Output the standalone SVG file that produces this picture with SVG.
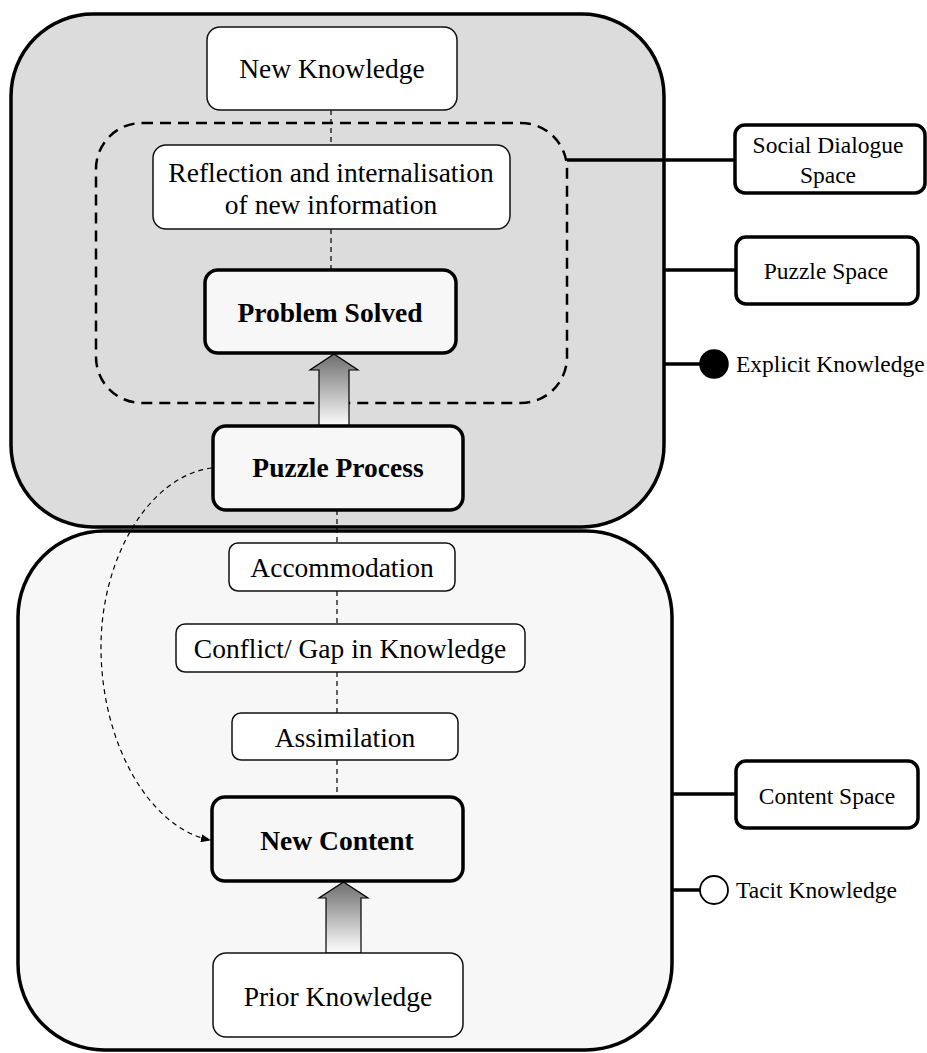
<svg xmlns="http://www.w3.org/2000/svg" width="927" height="1053" viewBox="0 0 927 1053">
<defs>
<linearGradient id="g" x1="0" y1="0" x2="0" y2="1">
<stop offset="0" stop-color="#6e6e6e"/>
<stop offset="1" stop-color="#ffffff"/>
</linearGradient>
<marker id="ah" markerWidth="10" markerHeight="8" refX="9" refY="4" orient="auto" markerUnits="userSpaceOnUse">
<path d="M0,0 L10,4 L0,8 z" fill="#000"/>
</marker>
<style>
text{font-family:"Liberation Serif","Times New Roman",serif;fill:#000;text-anchor:middle}
.t{font-size:27.5px}
.b{font-size:27.5px;font-weight:bold}
.s{font-size:23.5px}
.box{fill:#fff;stroke:#111;stroke-width:1.5}
.bold{fill:#f7f7f7;stroke:#000;stroke-width:3.5}
.side{fill:#fff;stroke:#000;stroke-width:3.5}
.dl{stroke:#000;stroke-width:1.2;stroke-dasharray:5,4;fill:none}
.ln{stroke:#000;stroke-width:3.5;fill:none}
</style>
</defs>
<g id="puzzle-space-container">
<rect x="11" y="14" width="653" height="513" rx="82" ry="82" fill="#dcdcdc" stroke="#000" stroke-width="3.5"/>
</g>
<g id="content-space-container">
<rect x="18" y="531" width="654" height="519" rx="86" ry="86" fill="#f7f7f7" stroke="#000" stroke-width="3.5"/>
</g>
<g id="social-dialogue-region">
<rect x="96" y="123" width="471" height="280" rx="46" ry="46" fill="none" stroke="#000" stroke-width="2.5" stroke-dasharray="11,7"/>
</g>
<g id="connectors">
<line class="dl" x1="331" y1="110" x2="331" y2="145"/>
<line class="dl" x1="331" y1="229" x2="331" y2="270"/>
<line class="dl" x1="337" y1="510" x2="337" y2="543"/>
<line class="dl" x1="337" y1="591" x2="337" y2="624"/>
<line class="dl" x1="337" y1="672" x2="337" y2="713"/>
<line class="dl" x1="337" y1="760" x2="337" y2="797"/>
<path class="dl" d="M212,468 C148,476 100,560 101,650 C102,745 150,828 210,840" stroke-dasharray="8,5" stroke-width="1.3" marker-end="url(#ah)"/>
<path d="M319,427 L319,370 L310,370 L334,354 L358,370 L349,370 L349,427 z" fill="url(#g)" stroke="#000" stroke-width="1.2"/>
<path d="M326,953 L326,898 L319,898 L343.5,882 L368,898 L361,898 L361,953 z" fill="url(#g)" stroke="#000" stroke-width="1.2"/>
<line class="ln" x1="567" y1="160" x2="735" y2="160"/>
<line class="ln" x1="664" y1="270" x2="736" y2="270"/>
<line class="ln" x1="664" y1="364" x2="702" y2="364"/>
<line class="ln" x1="672" y1="794" x2="736" y2="794"/>
<line class="ln" x1="672" y1="890" x2="700" y2="890"/>
</g>
<g id="new-knowledge">
<rect class="box" x="207" y="27" width="250" height="83" rx="13"/>
<text class="t" x="332" y="78">New Knowledge</text>
</g>
<g id="reflection">
<rect class="box" x="153" y="145" width="357" height="84" rx="13"/>
<text class="t" x="331" y="182">Reflection and internalisation</text>
<text class="t" x="331" y="214">of new information</text>
</g>
<g id="problem-solved">
<rect class="bold" x="205" y="270" width="251" height="83" rx="13"/>
<text class="b" x="330" y="322">Problem Solved</text>
</g>
<g id="puzzle-process">
<rect class="bold" x="213" y="426" width="250" height="84" rx="13"/>
<text class="b" x="338" y="477">Puzzle Process</text>
</g>
<g id="accommodation">
<rect class="box" x="229" y="543" width="226" height="48" rx="9"/>
<text class="t" x="342" y="577">Accommodation</text>
</g>
<g id="conflict">
<rect class="box" x="176" y="624" width="349" height="48" rx="9"/>
<text class="t" x="350" y="658">Conflict/ Gap in Knowledge</text>
</g>
<g id="assimilation">
<rect class="box" x="232" y="713" width="226" height="47" rx="9"/>
<text class="t" x="345" y="747">Assimilation</text>
</g>
<g id="new-content">
<rect class="bold" x="212" y="797" width="251" height="84" rx="13"/>
<text class="b" x="337" y="850">New Content</text>
</g>
<g id="prior-knowledge">
<rect class="box" x="213" y="953" width="250" height="84" rx="13"/>
<text class="t" x="338" y="1006">Prior Knowledge</text>
</g>
<g id="social-dialogue-space">
<rect class="side" x="735" y="125" width="190" height="68" rx="10"/>
<text class="s" x="828" y="153">Social Dialogue</text>
<text class="s" x="828" y="183">Space</text>
</g>
<g id="puzzle-space">
<rect class="side" x="736" y="237" width="182" height="67" rx="10"/>
<text class="s" x="826" y="279">Puzzle Space</text>
</g>
<g id="explicit-knowledge">
<circle cx="714" cy="364" r="14" fill="#000" stroke="#000" stroke-width="1.5"/>
<text class="s" x="736" y="372" style="text-anchor:start">Explicit Knowledge</text>
</g>
<g id="content-space">
<rect class="side" x="736" y="761" width="182" height="67" rx="10"/>
<text class="s" x="827" y="804">Content Space</text>
</g>
<g id="tacit-knowledge">
<circle cx="714" cy="890" r="14" fill="#fff" stroke="#000" stroke-width="1.8"/>
<text class="s" x="736" y="898" style="text-anchor:start">Tacit Knowledge</text>
</g>
</svg>
